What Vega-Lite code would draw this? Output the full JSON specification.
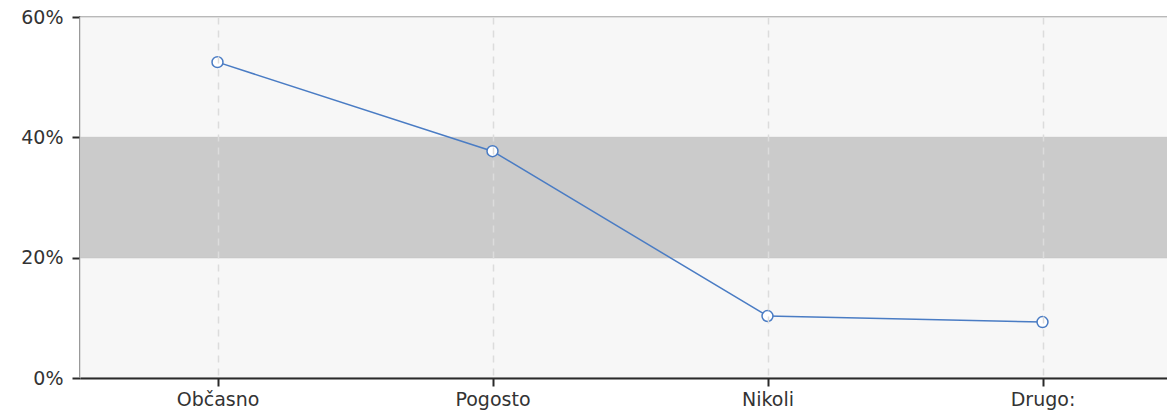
{
  "$schema": "https://vega.github.io/schema/vega-lite/v6.json",
  "width": 1100,
  "height": 361,
  "autosize": {"type": "none"},
  "padding": {"left": 80, "top": 17, "right": 0, "bottom": 37},
  "background": "white",
  "config": {"view": {"stroke": "#aaaaaa", "strokeWidth": 2}, "font": "DejaVu Sans"},
  "datasets": {
    "bands": [
      {"lo": 0, "hi": 0.2, "kind": "light"},
      {"lo": 0.2, "hi": 0.4, "kind": "dark"},
      {"lo": 0.4, "hi": 0.6, "kind": "light"}
    ],
    "points": [
      {"cat": "Občasno", "v": 0.525},
      {"cat": "Pogosto", "v": 0.377},
      {"cat": "Nikoli", "v": 0.103},
      {"cat": "Drugo:", "v": 0.093}
    ]
  },
  "layer": [
    {
      "data": {"name": "bands"},
      "mark": {"type": "rect", "stroke": "#c8c8c8", "strokeWidth": 1},
      "encoding": {
        "y": {"field": "lo", "type": "quantitative", "title": null, "scale": {"domain": [0, 0.6], "nice": false},
          "axis": {"values": [0, 0.2, 0.4, 0.6], "format": ".0%", "grid": false, "domainColor": "#2a2a2a", "domainWidth": 2, "tickColor": "#2a2a2a", "tickWidth": 2, "tickSize": 8, "labelFontSize": 19, "labelColor": "#333", "labelPadding": 9}},
        "y2": {"field": "hi"},
        "fill": {"field": "kind", "type": "nominal", "scale": {"domain": ["light", "dark"], "range": ["#f7f7f7", "#cbcbcb"]}, "legend": null}
      }
    },
    {
      "data": {"name": "points"},
      "mark": {"type": "line", "color": "#4a7cc4", "strokeWidth": 1.5,
        "point": {"filled": true, "fill": "white", "stroke": "#4a7cc4", "strokeWidth": 1.5, "size": 120, "opacity": 1}},
      "encoding": {
        "x": {"field": "cat", "type": "nominal", "sort": null, "title": null, "scale": {"type": "point", "padding": 0.5},
          "axis": {"labelAngle": 0, "grid": true, "zindex": 1, "gridColor": "#dcdcdc", "gridDash": [7, 6], "gridWidth": 1.5, "domainColor": "#2a2a2a", "domainWidth": 2, "tickColor": "#2a2a2a", "tickWidth": 2, "tickSize": 8, "labelFontSize": 19, "labelColor": "#333", "labelPadding": 4}},
        "y": {"field": "v", "type": "quantitative", "title": null}
      }
    }
  ]
}
